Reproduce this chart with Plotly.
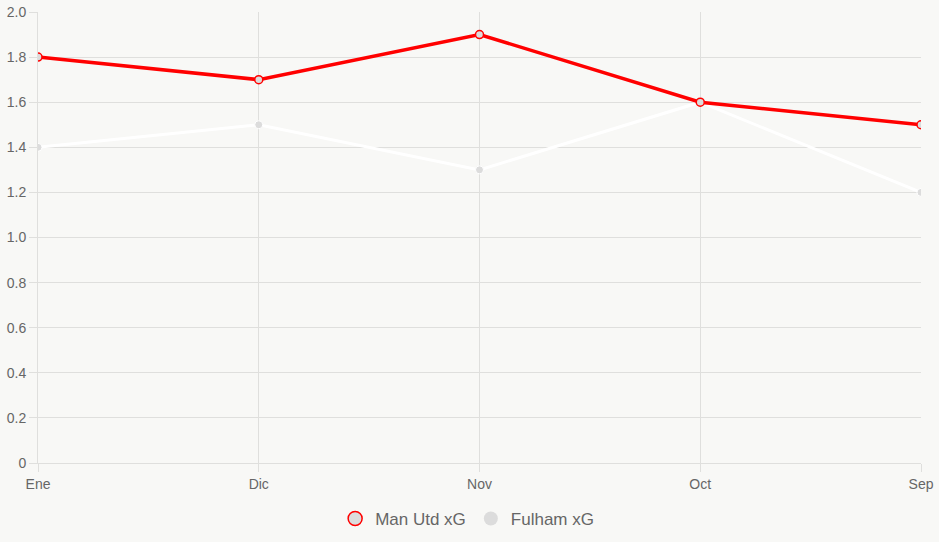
import plotly.graph_objects as go

months = ["Ene", "Dic", "Nov", "Oct", "Sep"]
man_utd_xg = [1.8, 1.7, 1.9, 1.6, 1.5]
fulham_xg = [1.4, 1.5, 1.3, 1.6, 1.2]
y_ticks = [0, 0.2, 0.4, 0.6, 0.8, 1.0, 1.2, 1.4, 1.6, 1.8, 2.0]
y_labels = ["0", "0.2", "0.4", "0.6", "0.8", "1.0", "1.2", "1.4", "1.6", "1.8", "2.0"]

bg = "#f8f8f6"
grid = "#dfdfdd"

fig = go.Figure()
fig.add_trace(go.Scatter(
    x=months, y=fulham_xg, name="Fulham xG", mode="lines+markers", showlegend=False,
    line=dict(color="#ffffff", width=3),
    marker=dict(size=8, color="#dcdcdc", line=dict(color="#ffffff", width=1)),
))
fig.add_trace(go.Scatter(
    x=months, y=man_utd_xg, name="Man Utd xG", mode="lines+markers", showlegend=False,
    line=dict(color="#ff0000", width=3.5),
    marker=dict(size=8, color="#dcdcdc", line=dict(color="#ff0000", width=1.5)),
))
# legend entries (circle swatches)
fig.add_trace(go.Scatter(
    x=[None], y=[None], name="Man Utd xG", mode="markers",
    marker=dict(size=14, color="#dcdcdc", line=dict(color="#ff0000", width=1.5)),
))
fig.add_trace(go.Scatter(
    x=[None], y=[None], name="Fulham xG", mode="markers",
    marker=dict(size=14, color="#dcdcdc", line=dict(color="#dcdcdc", width=0)),
))

fig.update_layout(
    width=939, height=542,
    margin=dict(l=38, r=18, t=12, b=79, autoexpand=False),
    paper_bgcolor=bg, plot_bgcolor=bg,
    font=dict(family="Liberation Sans, Arial, sans-serif", color="#666666", size=14),
    showlegend=True,
    legend=dict(orientation="h", x=0.486, xanchor="center", y=-0.124, yanchor="middle",
                font=dict(size=17, color="#666666"), itemwidth=30, traceorder="normal",
                bgcolor="rgba(0,0,0,0)"),
    hovermode=False,
)
fig.update_xaxes(
    type="category", range=[0, 4], showgrid=True, gridcolor=grid, gridwidth=1,
    ticks="outside", ticklen=8, tickcolor=grid, showline=True, linecolor=grid,
    zeroline=False, tickfont=dict(size=14, color="#666666"), automargin=False,
)
fig.update_yaxes(
    range=[0, 2.0], tickvals=y_ticks, ticktext=y_labels, showgrid=True,
    gridcolor=grid, gridwidth=1, ticks="outside", ticklen=8, tickcolor=grid,
    showline=True, linecolor=grid, zeroline=False,
    tickfont=dict(size=14, color="#666666"), automargin=False,
)

fig.write_html("out.html")
